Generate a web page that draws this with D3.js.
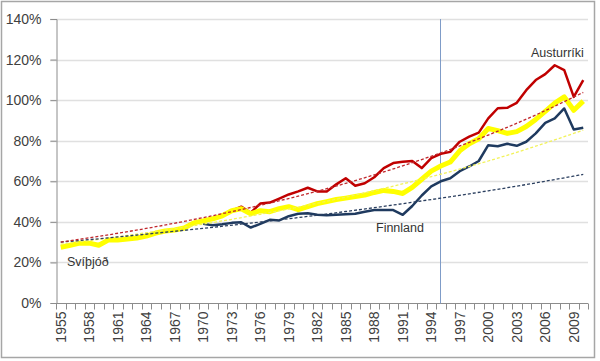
<!DOCTYPE html>
<html>
<head>
<meta charset="utf-8">
<script src="https://cdn.jsdelivr.net/npm/d3@7"></script>
<style>
  html, body { margin: 0; padding: 0; background: #fff; }
  svg { display: block; font-family: "Liberation Sans", Arial, sans-serif; }
</style>
</head>
<body>
<div id="chart"></div>
<script>
// Gögn lesin af myndinni (hlutfall, %)
const years = d3.range(1955, 2011);
const labelYears = d3.range(1955, 2011, 3);
const yTicks = [0, 20, 40, 60, 80, 100, 120, 140];

// Svíþjóð 1955-2010
const svithjod = [27.5, 28.5, 29.5, 29.5, 28.5, 31, 31, 31.5, 32, 33,
  34.5, 35.5, 36, 37, 39.5, 40.5, 41.5, 43, 45.5, 46.5,
  44, 45.5, 45, 46.5, 47.5, 46, 47.5, 49, 50, 51,
  51.7, 52.5, 53.2, 54.5, 55.5, 55, 54, 57, 61, 65,
  67.5, 69.5, 75, 78.5, 81, 86, 85, 83.6, 84.5, 87,
  90.5, 94.5, 98.5, 101.6, 95, 99.5];

// Finnland og Austurríki 1970-2010
const seriesYears = d3.range(1970, 2011);
const finnland = [39, 38.3, 38.8, 39.5, 39.8, 37.2, 39, 41, 40.7, 42.8,
  44, 44.2, 43.5, 43.3, 43.5, 43.7, 44, 45, 45.8, 45.8,
  45.8, 43.5, 47.8, 53, 57.5, 60, 61.5, 65, 67.3, 70,
  77.8, 77.3, 78.5, 77.5, 79.5, 83.6, 88.8, 91, 95.9, 85.5, 86.4];
const austurriki = [40.5, 41.5, 43.5, 45.5, 47.5, 44.5, 49, 49.5, 51.5, 53.5,
  55, 56.8, 55, 55, 58.5, 61.5, 57.8, 59, 62, 66.5,
  69, 69.6, 70, 66.5, 71.4, 73.5, 74.5, 79.5, 82, 84,
  91, 96, 96.2, 98.7, 104.9, 109.9, 112.8, 117.2, 114.8, 101.6, 109.9];

// Leitnilínur (lesnar á 5 ára fresti)
const trendYears = d3.range(1955, 2011, 5);
const austurrikiTrend = [30, 33.6, 37.6, 42.1, 47.1, 52.7, 59, 66.1, 74, 82.8, 92.7, 103.8];
const finnlandTrend = [30, 32.1, 34.4, 36.8, 39.4, 42.1, 45.1, 48.3, 51.7, 55.3, 59.2, 63.4];
const svithjodTrend = [29, 32, 35.3, 38.9, 42.9, 47.3, 52.2, 57.6, 63.5, 70, 77.3, 85.2];

const markerYear = 1995;

const width = 600, height = 361;
const margin = { left: 56, right: 12, top: 19, bottom: 58 };

const svg = d3.select("#chart").append("svg")
  .attr("width", width)
  .attr("height", height);

// ramminn utan um myndina
svg.append("rect")
  .attr("x", 1.5).attr("y", 1.5)
  .attr("width", 593).attr("height", 356)
  .attr("fill", "#fff")
  .attr("stroke", "#a6a6a6")
  .attr("stroke-width", 1.5);

const x = d3.scaleBand()
  .domain(years)
  .range([margin.left, width - margin.right])
  .padding(0);
const xc = yr => x(yr) + x.bandwidth() / 2;

const y = d3.scaleLinear()
  .domain([0, 140])
  .range([height - margin.bottom, margin.top]);

// gridlínur
svg.append("g")
  .selectAll("line")
  .data(yTicks.filter(d => d > 0))
  .join("line")
  .attr("x1", margin.left - 6)
  .attr("x2", width - margin.right)
  .attr("y1", d => Math.round(y(d)) + 0.5)
  .attr("y2", d => Math.round(y(d)) + 0.5)
  .attr("stroke", "#e0e0e0")
  .attr("stroke-width", 1.5);

// y-ás
const yAxis = svg.append("g")
  .attr("transform", `translate(${margin.left + 0.5},0)`)
  .call(d3.axisLeft(y).tickValues(yTicks).tickFormat(d => d + "%").tickSize(6).tickPadding(9));
yAxis.select(".domain").attr("stroke", "#8c8c8c");
yAxis.selectAll(".tick line").attr("stroke", "#8c8c8c");
yAxis.selectAll("text").attr("fill", "#404040").style("font-size", "14px");

// x-ás
const baseY = Math.round(y(0)) + 0.5;
svg.append("line")
  .attr("x1", margin.left).attr("x2", width - margin.right)
  .attr("y1", baseY).attr("y2", baseY)
  .attr("stroke", "#8c8c8c");

svg.append("g")
  .selectAll("line")
  .data(years.concat([2011]))
  .join("line")
  .attr("x1", d => Math.round(d === 2011 ? width - margin.right : x(d)) + 0.5)
  .attr("x2", d => Math.round(d === 2011 ? width - margin.right : x(d)) + 0.5)
  .attr("y1", baseY)
  .attr("y2", baseY + 6)
  .attr("stroke", "#8c8c8c");

svg.append("g")
  .selectAll("text")
  .data(labelYears)
  .join("text")
  .attr("transform", d => `translate(${xc(d)},${baseY + 8}) rotate(-90)`)
  .attr("text-anchor", "end")
  .attr("dy", "0.35em")
  .attr("fill", "#404040")
  .style("font-size", "14px")
  .text(d => d);

// lóðrétt lína við 1995
svg.append("line")
  .attr("x1", Math.round(xc(markerYear)) - 0.5)
  .attr("x2", Math.round(xc(markerYear)) - 0.5)
  .attr("y1", margin.top)
  .attr("y2", baseY)
  .attr("stroke", "#7f9cc8")
  .attr("stroke-width", 1);

const line = d3.line()
  .x(d => xc(d[0]))
  .y(d => y(d[1]));

const trendLine = d3.line()
  .x(d => xc(d[0]))
  .y(d => y(d[1]))
  .curve(d3.curveMonotoneX);

// raðir: Austurríki og Finnland undir gulu línunni
svg.append("path")
  .datum(d3.zip(seriesYears, austurriki))
  .attr("d", line)
  .attr("fill", "none")
  .attr("stroke", "#c00000")
  .attr("stroke-width", 2.5)
  .attr("stroke-linejoin", "round");

svg.append("path")
  .datum(d3.zip(seriesYears, finnland))
  .attr("d", line)
  .attr("fill", "none")
  .attr("stroke", "#1f3a5f")
  .attr("stroke-width", 2.5)
  .attr("stroke-linejoin", "round");

svg.append("path")
  .datum(d3.zip(years, svithjod))
  .attr("d", line)
  .attr("fill", "none")
  .attr("stroke", "#ffff00")
  .attr("stroke-width", 5)
  .attr("stroke-linejoin", "round");

// leitnilínur
const trends = [
  { vals: svithjodTrend, color: "#f2f25a" },
  { vals: finnlandTrend, color: "#2b3f5f" },
  { vals: austurrikiTrend, color: "#c0282d" }
];
trends.forEach(t => {
  svg.append("path")
    .datum(d3.zip(trendYears, t.vals))
    .attr("d", trendLine)
    .attr("fill", "none")
    .attr("stroke", t.color)
    .attr("stroke-width", 1.3)
    .attr("stroke-dasharray", "3,2");
});

// merkingar
const labels = [
  { text: "Austurríki", x: 531, y: 57 },
  { text: "Finnland", x: 376, y: 232 },
  { text: "Svíþjóð", x: 67, y: 266 }
];
svg.append("g")
  .selectAll("text")
  .data(labels)
  .join("text")
  .attr("x", d => d.x)
  .attr("y", d => d.y)
  .attr("fill", "#333")
  .style("font-size", "12.5px")
  .text(d => d.text);
</script>
</body>
</html>
